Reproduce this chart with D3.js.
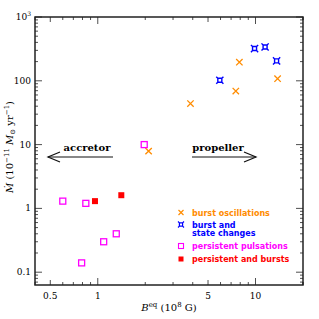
<!DOCTYPE html>
<html>
<head>
<meta charset="utf-8">
<script src="https://cdn.jsdelivr.net/npm/d3@7"></script>
<style>
  body { margin: 0; background: #fff; }
  svg text { font-family: "DejaVu Serif", serif; }
</style>
</head>
<body>
<div id="chart"></div>
<script>
// data
var burstOscB = [2.1, 3.87, 7.9, 7.5, 13.8];
var burstOscM = [7.9, 44, 196, 69, 108];
var stateChgB = [5.94, 9.86, 11.5, 13.6];
var stateChgM = [102, 320, 339, 205];
var persPulsB = [1.97, 0.6, 0.84, 1.09, 1.31, 0.79];
var persPulsM = [10, 1.3, 1.2, 0.30, 0.40, 0.14];
var persBurstB = [0.96, 1.41];
var persBurstM = [1.3, 1.61];

var xTickLabels = [0.5, 1, 5, 10];
var yTickLabels = [0.1, 1, 10, 100, 1000];

var orange = "#ff8c00", blue = "#0000ff", magenta = "#ff00ff", red = "#ff0000";

var margin = {top: 17, left: 35, right: 16, bottom: 34};
var W = 319, H = 319;
var width = W - margin.left - margin.right;
var height = H - margin.top - margin.bottom;

var svg = d3.select("#chart").append("svg")
  .attr("width", W).attr("height", H);
var g = svg.append("g")
  .attr("transform", "translate(" + margin.left + "," + margin.top + ")");

var x = d3.scaleLog().domain([0.4, 20]).range([0, width]);
var y = d3.scaleLog().domain([0.063, 1000]).range([height, 0]);

// tick positions
var xTicks = [];
[0.1, 1, 10].forEach(function(dec) {
  for (var k = 1; k < 10; k++) {
    var v = dec * k;
    if (v >= 0.4 && v <= 20) xTicks.push(v);
  }
});
xTicks.push(20);
var yTicks = [];
[0.01, 0.1, 1, 10, 100].forEach(function(dec) {
  for (var k = 1; k < 10; k++) {
    var v = dec * k;
    if (v >= 0.063 && v <= 1000) yTicks.push(v);
  }
});
yTicks.push(1000);

function isDecade(v) {
  var l = Math.log10(v);
  return Math.abs(l - Math.round(l)) < 1e-6;
}
function xLen(v) {
  if (isDecade(v)) return 7;
  if (xTickLabels.indexOf(+v.toPrecision(3)) >= 0) return 5;
  return 3;
}
function yLen(v) { return isDecade(v) ? 7 : 3; }

var axisColor = "#222";

// frame
g.append("rect")
  .attr("width", width).attr("height", height)
  .attr("fill", "none").attr("stroke", axisColor).attr("stroke-width", 1.5);

// x ticks bottom & top
g.selectAll(".xtb").data(xTicks).enter().append("line")
  .attr("x1", d => x(d)).attr("x2", d => x(d))
  .attr("y1", height).attr("y2", d => height - xLen(d))
  .attr("stroke", axisColor).attr("stroke-width", 0.8);
g.selectAll(".xtt").data(xTicks).enter().append("line")
  .attr("x1", d => x(d)).attr("x2", d => x(d))
  .attr("y1", 0).attr("y2", d => xLen(d))
  .attr("stroke", axisColor).attr("stroke-width", 0.8);

// y ticks left & right
g.selectAll(".ytl").data(yTicks).enter().append("line")
  .attr("y1", d => y(d)).attr("y2", d => y(d))
  .attr("x1", 0).attr("x2", d => yLen(d))
  .attr("stroke", axisColor).attr("stroke-width", 0.8);
g.selectAll(".ytr").data(yTicks).enter().append("line")
  .attr("y1", d => y(d)).attr("y2", d => y(d))
  .attr("x1", width).attr("x2", d => width - yLen(d))
  .attr("stroke", axisColor).attr("stroke-width", 0.8);

// tick labels
g.selectAll(".xl").data(xTickLabels).enter().append("text")
  .attr("x", d => x(d)).attr("y", height + 14)
  .attr("text-anchor", "middle")
  .style("font-size", "9px")
  .text(d => d);

var yl = g.selectAll(".yl").data(yTickLabels).enter().append("text")
  .attr("x", -4).attr("y", d => y(d) + 3)
  .attr("text-anchor", "end")
  .style("font-size", "9px");
yl.each(function(d) {
  var t = d3.select(this);
  if (d === 1000) {
    t.text("10");
    t.append("tspan").attr("dy", -4).style("font-size", "6px").text("3");
  } else {
    t.text(d);
  }
});

// axis titles
var xt = svg.append("text")
  .attr("x", margin.left + width / 2).attr("y", 311)
  .attr("text-anchor", "middle")
  .style("font-size", "10px");
xt.append("tspan").style("font-style", "italic").text("B");
xt.append("tspan").attr("dy", -4).style("font-size", "7px").text("eq");
xt.append("tspan").attr("dy", 4).text(" (10");
xt.append("tspan").attr("dy", -4).style("font-size", "7px").text("8");
xt.append("tspan").attr("dy", 4).text(" G)");

var yt = svg.append("text")
  .attr("transform", "translate(13,147) rotate(-90)")
  .attr("text-anchor", "middle")
  .style("font-size", "10px");
yt.append("tspan").style("font-style", "italic").text("Ṁ");
yt.append("tspan").text("  (10");
yt.append("tspan").attr("dy", -4).style("font-size", "7px").text("−11");
yt.append("tspan").attr("dy", 4).text(" ");
yt.append("tspan").style("font-style", "italic").text("M");
yt.append("tspan").attr("dy", 2).style("font-size", "7px").text("⊙");
yt.append("tspan").attr("dy", -2).text(" yr");
yt.append("tspan").attr("dy", -4).style("font-size", "7px").text("−1");
yt.append("tspan").attr("dy", 4).text(")");

// marker shapes
function crossPath(s) {
  return "M" + (-s) + "," + (-s) + "L" + s + "," + s + "M" + (-s) + "," + s + "L" + s + "," + (-s);
}
// small square with prongs at the corners
function prongSquare(s, p) {
  var d = "M" + (-s) + "," + (-s) + "H" + s + "V" + s + "H" + (-s) + "Z";
  [[-1, -1], [1, -1], [1, 1], [-1, 1]].forEach(function(c) {
    d += "M" + (c[0] * s) + "," + (c[1] * s) + "L" + (c[0] * p) + "," + (c[1] * p);
  });
  return d;
}

var pts = g.append("g");

pts.selectAll(".bo").data(d3.zip(burstOscB, burstOscM)).enter().append("path")
  .attr("transform", d => "translate(" + x(d[0]) + "," + y(d[1]) + ")")
  .attr("d", crossPath(3.2))
  .attr("fill", "none").attr("stroke", orange).attr("stroke-width", 1.3);

pts.selectAll(".sc").data(d3.zip(stateChgB, stateChgM)).enter().append("path")
  .attr("transform", d => "translate(" + x(d[0]) + "," + y(d[1]) + ")")
  .attr("d", prongSquare(2, 3.6))
  .attr("fill", "none").attr("stroke", blue).attr("stroke-width", 1.4);

pts.selectAll(".pp").data(d3.zip(persPulsB, persPulsM)).enter().append("rect")
  .attr("x", d => x(d[0]) - 3).attr("y", d => y(d[1]) - 3)
  .attr("width", 6).attr("height", 6)
  .attr("fill", "none").attr("stroke", magenta).attr("stroke-width", 1.3);

pts.selectAll(".pb").data(d3.zip(persBurstB, persBurstM)).enter().append("rect")
  .attr("x", d => x(d[0]) - 3).attr("y", d => y(d[1]) - 3)
  .attr("width", 6).attr("height", 6)
  .attr("fill", red);

// accretor / propeller arrows
function arrow(x1, x2, yy, head) {
  var a = svg.append("g").attr("stroke", "#111").attr("stroke-width", 1.2).attr("fill", "none");
  a.append("line").attr("x1", x1).attr("x2", x2).attr("y1", yy).attr("y2", yy);
  var hx = head === "left" ? x1 : x2;
  var dir = head === "left" ? 1 : -1;
  a.append("path").attr("d", "M" + (hx + dir * 12) + "," + (yy - 5) + "L" + hx + "," + yy + "L" + (hx + dir * 12) + "," + (yy + 5));
}
arrow(48, 113, 157, "left");
arrow(192, 256, 157, "right");
svg.append("text").attr("x", 87).attr("y", 151).attr("text-anchor", "middle")
  .style("font-size", "10px").style("font-weight", "bold").text("accretor");
svg.append("text").attr("x", 218).attr("y", 151).attr("text-anchor", "middle")
  .style("font-size", "10px").style("font-weight", "bold").text("propeller");

// legend
var legendNames = [["burst oscillations"], ["burst and", "state changes"], ["persistent pulsations"], ["persistent and bursts"]];
var legendColors = [orange, blue, magenta, red];
var legendY = [212.5, 224.5, 246, 259];
var lg = svg.append("g");
legendNames.forEach(function(lines, i) {
  var yy = legendY[i];
  var mk = lg.append("g").attr("transform", "translate(181," + yy + ")");
  if (i === 0) mk.append("path").attr("d", crossPath(2.5)).attr("stroke", orange).attr("stroke-width", 1.2);
  if (i === 1) mk.append("path").attr("d", prongSquare(1.6, 3)).attr("fill", "none").attr("stroke", blue).attr("stroke-width", 1.2);
  if (i === 2) mk.append("rect").attr("x", -2.5).attr("y", -2.5).attr("width", 5).attr("height", 5).attr("fill", "none").attr("stroke", magenta).attr("stroke-width", 1.1);
  if (i === 3) mk.append("rect").attr("x", -2.5).attr("y", -2.5).attr("width", 5).attr("height", 5).attr("fill", red);
  lines.forEach(function(s, j) {
    lg.append("text").attr("x", 192).attr("y", yy + 3 + j * 8)
      .attr("fill", legendColors[i])
      .style("font-size", "8px").style("font-weight", "bold")
      .style("font-family", "'DejaVu Sans', sans-serif")
      .text(s);
  });
});
</script>
</body>
</html>
